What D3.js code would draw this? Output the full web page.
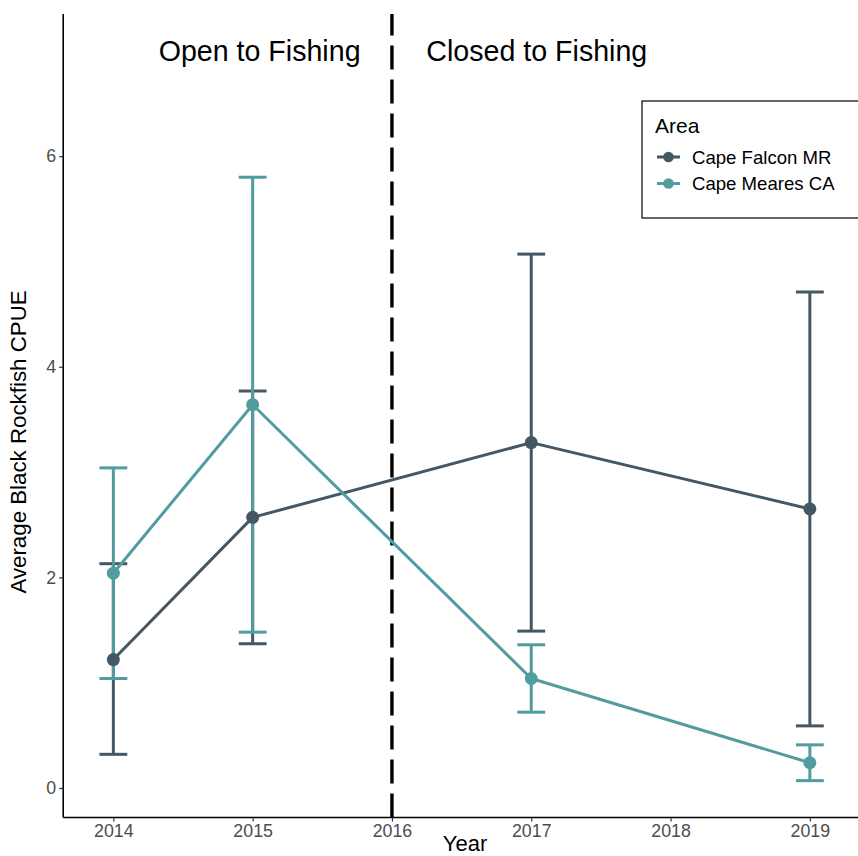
<!DOCTYPE html>
<html>
<head>
<meta charset="utf-8">
<script src="https://cdn.jsdelivr.net/npm/d3@7"></script>
<style>
  html, body { margin: 0; padding: 0; background: #fff; }
  svg { display: block; font-family: "Liberation Sans", Arial, sans-serif; }
</style>
</head>
<body>
<svg id="chart" width="858" height="856"></svg>
<script>
// ---- data ----
const years = [2014, 2015, 2017, 2019];
const areas = ["Cape Falcon MR", "Cape Meares CA"];
const falconMean = [1.22, 2.57, 3.28, 2.65];
const falconLow  = [0.32, 1.37, 1.49, 0.59];
const falconHigh = [2.13, 3.77, 5.07, 4.71];
const mearesMean = [2.04, 3.64, 1.04, 0.24];
const mearesLow  = [1.04, 1.48, 0.72, 0.07];
const mearesHigh = [3.04, 5.80, 1.36, 0.41];
const xTicks = [2014, 2015, 2016, 2017, 2018, 2019];
const yTicks = [0, 2, 4, 6];
const cutYear = 2016;
const annoLabels = ["Open to Fishing", "Closed to Fishing"];
const annoX = [2015.05, 2017.04];
const annoY = 7;
const colors = ["#445765", "#519c9f"];

const series = [
  { name: areas[0], mean: falconMean, low: falconLow, high: falconHigh, color: colors[0] },
  { name: areas[1], mean: mearesMean, low: mearesLow, high: mearesHigh, color: colors[1] }
];

const svg = d3.select("#chart");
const x = d3.scaleLinear().domain([2013.64, 2019.36]).range([63.2, 860]);
const y = d3.scaleLinear().domain([-0.28, 7.35]).range([817.5, 14]);

// dashed vertical line (drawn from bottom up)
svg.append("line")
  .attr("x1", x(cutYear)).attr("x2", x(cutYear))
  .attr("y1", y.range()[0]).attr("y2", y.range()[1])
  .attr("stroke", "#000").attr("stroke-width", 3.4)
  .attr("stroke-dasharray", "24,10");

// error bars
const capHalf = x(2014.1) - x(2014);
series.forEach(s => {
  const g = svg.append("g");
  years.forEach((yr, i) => {
    g.append("line").attr("x1", x(yr)).attr("x2", x(yr))
      .attr("y1", y(s.low[i])).attr("y2", y(s.high[i]))
      .attr("stroke", s.color).attr("stroke-width", 3);
    [s.low[i], s.high[i]].forEach(v => {
      g.append("line").attr("x1", x(yr) - capHalf).attr("x2", x(yr) + capHalf)
        .attr("y1", y(v)).attr("y2", y(v))
        .attr("stroke", s.color).attr("stroke-width", 3);
    });
  });
});

// lines
const line = d3.line().x((d, i) => x(years[i])).y(d => y(d));
series.forEach(s => {
  svg.append("path").datum(s.mean).attr("d", line)
    .attr("fill", "none").attr("stroke", s.color).attr("stroke-width", 3)
    .attr("stroke-linejoin", "round");
});

// points
series.forEach(s => {
  svg.append("g").selectAll("circle").data(s.mean).join("circle")
    .attr("cx", (d, i) => x(years[i])).attr("cy", d => y(d))
    .attr("r", 6.5).attr("fill", s.color);
});

// axes
const xAxis = svg.append("g").attr("transform", `translate(0,${y.range()[0]})`)
  .call(d3.axisBottom(x).tickValues(xTicks).tickFormat(d3.format("d")).tickSize(4).tickPadding(3));
const yAxis = svg.append("g").attr("transform", `translate(${x.range()[0]},0)`)
  .call(d3.axisLeft(y).tickValues(yTicks).tickSize(4).tickPadding(3));
[xAxis, yAxis].forEach(a => {
  a.select(".domain").attr("stroke", "#000").attr("stroke-width", 1.6);
  a.selectAll(".tick line").attr("stroke", "#333").attr("stroke-width", 1.2);
  a.selectAll(".tick text").attr("fill", "#4d4d4d").style("font-size", "17.8px")
    .style("font-family", '"Liberation Sans", Arial, sans-serif');
});
xAxis.select(".domain").attr("d", `M${x.range()[0]},0H858`);
yAxis.select(".domain").attr("d", `M0,${y.range()[0]}V${y.range()[1]}`);

// axis titles
svg.append("text").attr("x", 465).attr("y", 851).attr("text-anchor", "middle")
  .style("font-size", "22px").attr("fill", "#000").text("Year");
svg.append("text").attr("transform", "translate(25.5,442) rotate(-90)").attr("text-anchor", "middle")
  .style("font-size", "22.3px").attr("fill", "#000").text("Average Black Rockfish CPUE");

// annotations
annoLabels.forEach((t, i) => {
  svg.append("text").attr("x", x(annoX[i])).attr("y", y(annoY) + 10)
    .attr("text-anchor", "middle").style("font-size", "28.6px").attr("fill", "#000").text(t);
});

// legend
const lg = svg.append("g").attr("transform", "translate(642,101)");
lg.append("rect").attr("x", 0).attr("y", 0).attr("width", 240).attr("height", 117)
  .attr("fill", "#fff").attr("stroke", "#000").attr("stroke-width", 1.2);
lg.append("text").attr("x", 13).attr("y", 32).style("font-size", "21px").attr("fill", "#000").text("Area");
series.forEach((s, i) => {
  const cy = 56 + i * 26.5;
  lg.append("line").attr("x1", 15).attr("x2", 38).attr("y1", cy).attr("y2", cy)
    .attr("stroke", s.color).attr("stroke-width", 3);
  lg.append("circle").attr("cx", 26.5).attr("cy", cy).attr("r", 5.3).attr("fill", s.color);
  lg.append("text").attr("x", 50).attr("y", cy + 6.5).style("font-size", "18.6px").attr("fill", "#000").text(s.name);
});
</script>
</body>
</html>
